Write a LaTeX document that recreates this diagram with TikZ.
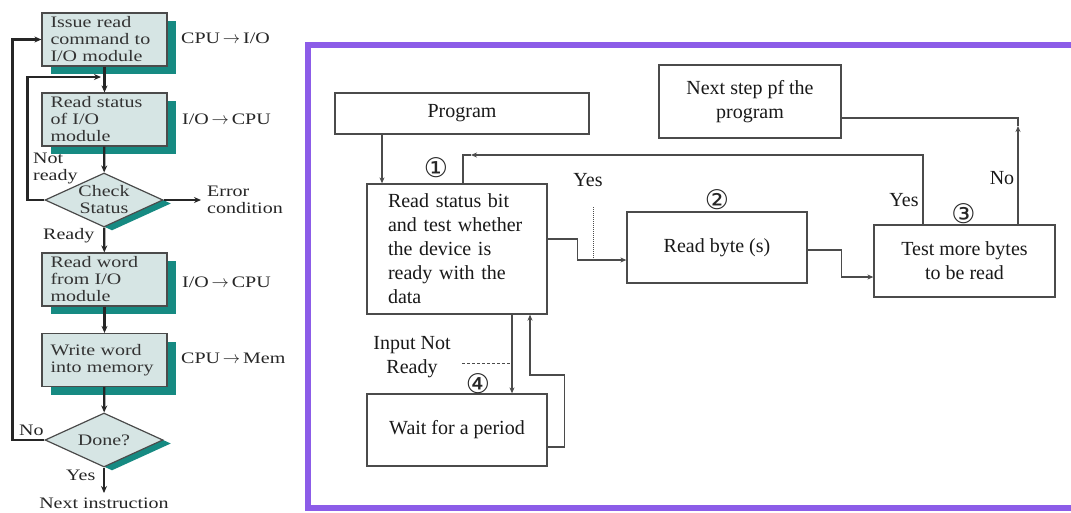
\documentclass[tikz,border=0pt]{standalone}
\usepackage{fontspec}
\setmainfont{Liberation Serif}
\newfontfamily\wideserif{Liberation Serif}[FakeStretch=1.25]
\newfontfamily\numfont{DejaVu Sans}
\usetikzlibrary{shapes.geometric,shadows,arrows.meta}
\definecolor{boxfill}{RGB}{214,229,228}
\definecolor{shadeteal}{RGB}{22,138,130}
\definecolor{framepurple}{RGB}{140,92,232}
\definecolor{linegray}{RGB}{75,75,75}

\begin{document}
\begin{tikzpicture}[x=1pt,y=-1pt,>={Stealth[length=7pt,width=6pt]},
  flowbox/.style={draw=linegray,line width=1.2pt,fill=boxfill,minimum width=125pt,minimum height=53pt,
    text width=108pt,align=left,inner sep=0pt,font=\wideserif\fontsize{16}{17}\selectfont,text=black!80,
    drop shadow={shadow xshift=9pt,shadow yshift=-8pt,fill=shadeteal,opacity=1}},
  flowdia/.style={diamond,draw=linegray,line width=1.2pt,fill=boxfill,minimum width=118pt,minimum height=54pt,
    inner sep=0pt,drop shadow={shadow xshift=8pt,shadow yshift=-3.5pt,fill=shadeteal,opacity=1}},
  diatext/.style={align=center,inner sep=0pt,font=\wideserif\fontsize{16}{17}\selectfont,text=black!80},
  lbl/.style={inner sep=0pt,font=\wideserif\fontsize{16}{17}\selectfont,text=black!85},
  flowline/.style={black!85,line width=2.2pt},
  rbox/.style={draw=linegray,line width=1.3pt,fill=white,inner sep=0pt,font=\fontsize{20}{24}\selectfont,text=black!90},
  rlbl/.style={inner sep=0pt,font=\fontsize{20}{24}\selectfont,text=black!90},
  rline/.style={linegray,line width=1.4pt,>={Stealth[length=6pt,width=5pt]}},
  stepno/.style={inner sep=0pt,font=\numfont\fontsize{27}{27}\selectfont,text=black!85}]

\useasboundingbox (0,0) rectangle (1071,512);
\fill[white] (0,0) rectangle (1071,512);

% programmed I/O flowchart
\node[flowbox] (iss) at (104.5,39.5) {Issue read\\command to\\I/O module};
\node[flowbox] (rds) at (104.5,119.5) {Read status\\of I/O\\module};
\node[flowdia] (chk) at (104,200) {};
\node[diatext] (chkt) at (chk) {Check\\Status};
\node[flowbox] (rdw) at (104.5,279.5) {Read word\\from I/O\\module};
\node[flowbox] (wrt) at (104.5,360) {Write word\\into memory};
\node[flowdia] (don) at (104,440) {};
\node[diatext] (dont) at (don) {Done?};

\draw[flowline,->] (iss) -- (rds);
\draw[flowline,->] (rds) -- (chk);
\draw[flowline,->] (chk) -- (rdw);
\draw[flowline,->] (rdw) -- (wrt);
\draw[flowline,->] (wrt) -- (don);

\coordinate (nexti) at (104,493);
\draw[flowline,->] (don) -- (nexti);
\node[lbl] (nextt) at (104,503.5) {Next instruction};

\coordinate (err) at (201,200);
\draw[flowline,->] (chk) -- (err);
\node[lbl,anchor=west,align=left] (errt) at (207,200) {Error\\condition};

\coordinate (nr) at (101,77);
\draw[flowline,->] (chk.west) -- ++(-17,0) |- (nr);
\draw[flowline,->] (don.west) -- ++(-32,0) |- (iss.west);

\node[lbl,anchor=west,align=left] (nrt) at (33,168) {Not\\ready};
\node[lbl,anchor=west] (rdyt) at (43,236) {Ready};
\node[lbl,anchor=west] (not) at (19,430) {No};
\node[lbl,anchor=west] (yest) at (66,475) {Yes};

\node[lbl,anchor=west] (dir1) at (181,38) {CPU$\,\rightarrow\,$I/O};
\node[lbl,anchor=west] (dir2) at (182,119) {I/O$\,\rightarrow\,$CPU};
\node[lbl,anchor=west] (dir3) at (182,282) {I/O$\,\rightarrow\,$CPU};
\node[lbl,anchor=west] (dir4) at (181,358) {CPU$\,\rightarrow\,$Mem};

% polling loop
\draw[framepurple,line width=6pt] (308,45) rectangle (1078,508);

\node[rbox,minimum width=254pt,minimum height=41pt] (prog) at (462,113.5) {Program};
\node[rbox,minimum width=182pt,minimum height=73pt,align=center] (nstep) at (750,101.5) {Next step pf the\\program};
\node[rbox,minimum width=180pt,minimum height=130pt,text width=138pt,align=left] (rst) at (457,249)
  {Read status bit\\and test whether\\the device is\\ready with the\\data};
\node[rbox,minimum width=180pt,minimum height=71pt] (rbt) at (717,247.5) {Read byte (s)};
\node[rbox,minimum width=181pt,minimum height=72pt,align=center] (tst) at (964.5,261) {Test more bytes\\to be read};
\node[rbox,minimum width=180pt,minimum height=72pt] (wai) at (457,430) {Wait for a period};

\draw[rline,->] ([xshift=-80pt]prog.south) -- ([xshift=-80pt]prog.south |- rst.north);

\coordinate (bk) at (463,155);
\draw[rline,->] ([xshift=-41.5pt]tst.north) |- ([xshift=8pt]bk);
\draw[rline] ([xshift=8pt]bk) -- (bk) -- (bk |- rst.north);

\draw[rline,->] ([yshift=10pt]rst.east) -- ++(30,0) |- ([yshift=-12.5pt]rbt.west);
\draw[rline,->] ([yshift=-2.5pt]rbt.east) -- ++(34,0) |- ([yshift=-16pt]tst.west);

\coordinate (up) at (1018,118);
\draw[rline,->] ([xshift=53.5pt]tst.north) -- ([yshift=-8pt]up);
\draw[rline] ([yshift=-8pt]up) -- (up) -- ([yshift=-16.5pt]nstep.east);

\draw[rline,->] ([xshift=55pt]rst.south) -- ([xshift=55pt]rst.south |- wai.north);
\draw[rline,->] ([yshift=-17pt]wai.east) -- ++(17,0) |- ([xshift=73pt]rst.south |- 0,375) -- ([xshift=73pt]rst.south);

\draw[linegray,densely dotted,line width=1pt] (593,207) -- (593,260);
\draw[linegray,densely dashed,line width=0.8pt] (462,363) -- (512,363);

\node[rlbl] (yes1) at (588,180) {Yes};
\node[rlbl] (yes2) at (904,200) {Yes};
\node[rlbl] (no1) at (1002,178) {No};
\node[rlbl,align=center] (inr) at (412,357) {Input Not\\Ready};

\node[stepno] (s1) at (436,168) {①};
\node[stepno] (s2) at (717,200) {②};
\node[stepno] (s3) at (963.5,214) {③};
\node[stepno] (s4) at (478,383.5) {④};
\end{tikzpicture}
\end{document}
